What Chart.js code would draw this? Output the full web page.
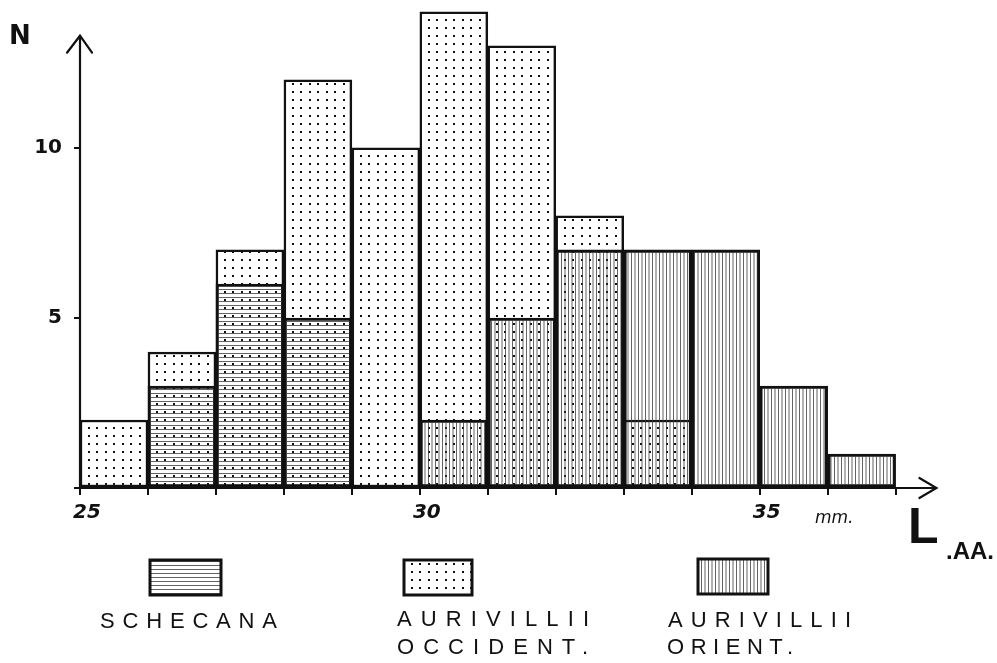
<!DOCTYPE html>
<html>
<head>
<meta charset="utf-8">
<script src="https://cdn.jsdelivr.net/npm/chart.js@4.4.1/dist/chart.umd.min.js"></script>
<style>
  body { margin: 0; background: #fff; }
  #wrap { width: 997px; height: 663px; position: relative; }
</style>
</head>
<body>
<div id="wrap"><canvas id="chart"></canvas></div>
<script>
// histogram bins (lower edge, mm), one unit wide
const bins = [25, 26, 27, 28, 29, 30, 31, 32, 33, 34, 35, 36];
// counts per bin, histograms overlap (not stacked)
const occident = [2, 4, 7, 12, 10, 14, 13, 8, 2, null, null, null];
const schecana = [null, 3, 6, 5, null, null, null, null, null, null, null, null];
const orient = [null, null, null, null, null, 2, 5, 7, 7, 7, 3, 1];
const xTickLabels = [25, 30, 35];
const yTickLabels = [5, 10];
const legendLines = {
    schecana: ['SCHECANA'],
    occident: ['AURIVILLII', 'OCCIDENT.'],
    orient: ['AURIVILLII', 'ORIENT.']
};

function makePattern(kind) {
    const c = document.createElement('canvas');
    const ctx = c.getContext('2d');
    if (kind === 'dots') {
        c.width = 17; c.height = 16;
        ctx.fillStyle = '#fff';
        ctx.fillRect(0, 0, c.width, c.height);
        ctx.fillStyle = '#111';
        ctx.fillRect(3, 3, 2, 2);
        ctx.fillRect(11, 11, 2, 2);
        ctx.fillRect(11, 3, 2, 2);
        ctx.fillRect(3, 11, 2, 2);
    } else if (kind === 'hlines') {
        c.width = 8; c.height = 4;
        ctx.fillStyle = 'rgba(60,60,60,0.8)';
        ctx.fillRect(0, 1, 8, 1);
    } else {
        c.width = 7; c.height = 8;
        ctx.fillStyle = 'rgba(60,60,60,0.8)';
        ctx.fillRect(1, 0, 1, 8);
        ctx.fillRect(4.5, 0, 1, 8);
    }
    return ctx.createPattern(c, 'repeat');
}

const pats = {
    dots: makePattern('dots'),
    hlines: makePattern('hlines'),
    vlines: makePattern('vlines')
};

const toPoints = arr => bins.map((b, i) => ({ x: b + 0.5, y: arr[i] })).filter(p => p.y !== null);

const barStyle = {
    borderColor: '#111',
    borderWidth: 2.5,
    borderSkipped: false,
    barPercentage: 1,
    categoryPercentage: 1,
    grouped: false,
    clip: false
};

// draws a line of text spread out to a given width
function spacedText(ctx, txt, x, y, width) {
    ctx.letterSpacing = '0px';
    const w = ctx.measureText(txt).width;
    const sp = (width - w) / (txt.length - 1);
    ctx.letterSpacing = sp + 'px';
    ctx.fillText(txt, x, y);
    ctx.letterSpacing = '0px';
}

const handDrawn = {
    id: 'handDrawn',
    afterDraw(chart) {
        const ctx = chart.ctx;
        const xs = chart.scales.x, ys = chart.scales.y;
        const x0 = xs.getPixelForValue(25), y0 = ys.getPixelForValue(0);
        const yTop = ys.getPixelForValue(13.3);
        const xEnd = xs.getPixelForValue(37.6);
        ctx.save();
        ctx.strokeStyle = '#111';
        ctx.lineWidth = 2.2;
        ctx.lineCap = 'round';
        ctx.beginPath();
        ctx.moveTo(x0, y0); ctx.lineTo(x0, yTop);
        ctx.moveTo(x0 - 13, yTop + 17); ctx.lineTo(x0, yTop); ctx.lineTo(x0 + 12, yTop + 17);
        ctx.moveTo(x0, y0); ctx.lineTo(xEnd, y0);
        ctx.moveTo(xEnd - 17, y0 - 10); ctx.lineTo(xEnd, y0); ctx.lineTo(xEnd - 17, y0 + 10);
        ctx.stroke();

        ctx.fillStyle = '#111';
        ctx.textBaseline = 'middle';
        ctx.font = 'bold 26px "DejaVu Sans"';
        ctx.fillText('N', 9, 37);
        ctx.font = 'italic 17px "DejaVu Sans"';
        ctx.fillText('mm.', 815, 519);
        ctx.font = 'bold 50px "Liberation Sans"';
        ctx.fillText('L', 908, 529);
        ctx.font = 'bold 24px "Liberation Sans"';
        ctx.fillText('.AA.', 946, 552);

        // legend
        const items = [
            { ds: 0, box: [150, 560, 71, 35], text: [[100, 622, 177]] },
            { ds: 1, box: [404, 560, 68, 35], text: [[397, 620, 192], [397, 648, 191]] },
            { ds: 2, box: [698, 559, 70, 35], text: [[668, 621, 183], [667, 648, 126]] }
        ];
        items.forEach(it => {
            const d = chart.data.datasets[it.ds];
            const [bx, by, bw, bh] = it.box;
            ctx.fillStyle = '#fff';
            ctx.fillRect(bx, by, bw, bh);
            ctx.fillStyle = d.backgroundColor;
            ctx.fillRect(bx, by, bw, bh);
            ctx.lineWidth = 3;
            ctx.strokeStyle = '#111';
            ctx.strokeRect(bx, by, bw, bh);
            ctx.fillStyle = '#111';
            ctx.font = '22px "Liberation Sans"';
            d.legendLines.forEach((line, k) => {
                const [tx, ty, tw] = it.text[k];
                spacedText(ctx, line, tx, ty, tw);
            });
        });
        ctx.restore();
    }
};

new Chart(document.getElementById('chart'), {
    type: 'bar',
    data: {
        datasets: [
            Object.assign({ label: 'SCHECANA', data: toPoints(schecana), backgroundColor: pats.hlines, order: 1, legendLines: legendLines.schecana }, barStyle),
            Object.assign({ label: 'AURIVILLII OCCIDENT.', data: toPoints(occident), backgroundColor: pats.dots, order: 2, legendLines: legendLines.occident }, barStyle),
            Object.assign({ label: 'AURIVILLII ORIENT.', data: toPoints(orient), backgroundColor: pats.vlines, order: 1, legendLines: legendLines.orient }, barStyle)
        ]
    },
    options: {
        responsive: true,
        maintainAspectRatio: false,
        animation: false,
        layout: { padding: { top: 0, right: 47, left: 0, bottom: 0 } },
        plugins: { legend: { display: false }, tooltip: { enabled: false } },
        scales: {
            x: {
                type: 'linear',
                min: 25,
                max: 37.8,
                offset: false,
                afterFit(s) { s.height = 175; s.paddingLeft = 0; s.paddingRight = 0; },
                border: { display: false },
                grid: { offset: false, drawOnChartArea: false, drawTicks: true, tickLength: 7, color: '#111', lineWidth: 2 },
                ticks: {
                    stepSize: 1,
                    includeBounds: false,
                    autoSkip: false,
                    maxRotation: 0,
                    labelOffset: 7,
                    padding: 6,
                    color: '#111',
                    font: { family: 'DejaVu Sans', size: 20, weight: 'bold', style: 'italic' },
                    callback: v => xTickLabels.includes(v) ? String(v) : ''
                }
            },
            y: {
                min: 0,
                max: 14.35,
                afterFit(s) { s.width = 80; s.paddingTop = 0; s.paddingBottom = 0; },
                border: { display: false },
                grid: { drawOnChartArea: false, drawTicks: true, tickLength: 6, color: '#111', lineWidth: 2 },
                ticks: {
                    stepSize: 5,
                    includeBounds: false,
                    padding: 12,
                    color: '#111',
                    font: { family: 'DejaVu Sans', size: 20, weight: 'bold' },
                    callback: v => yTickLabels.includes(v) ? String(v) : ''
                }
            }
        }
    },
    plugins: [handDrawn]
});
</script>
</body>
</html>
